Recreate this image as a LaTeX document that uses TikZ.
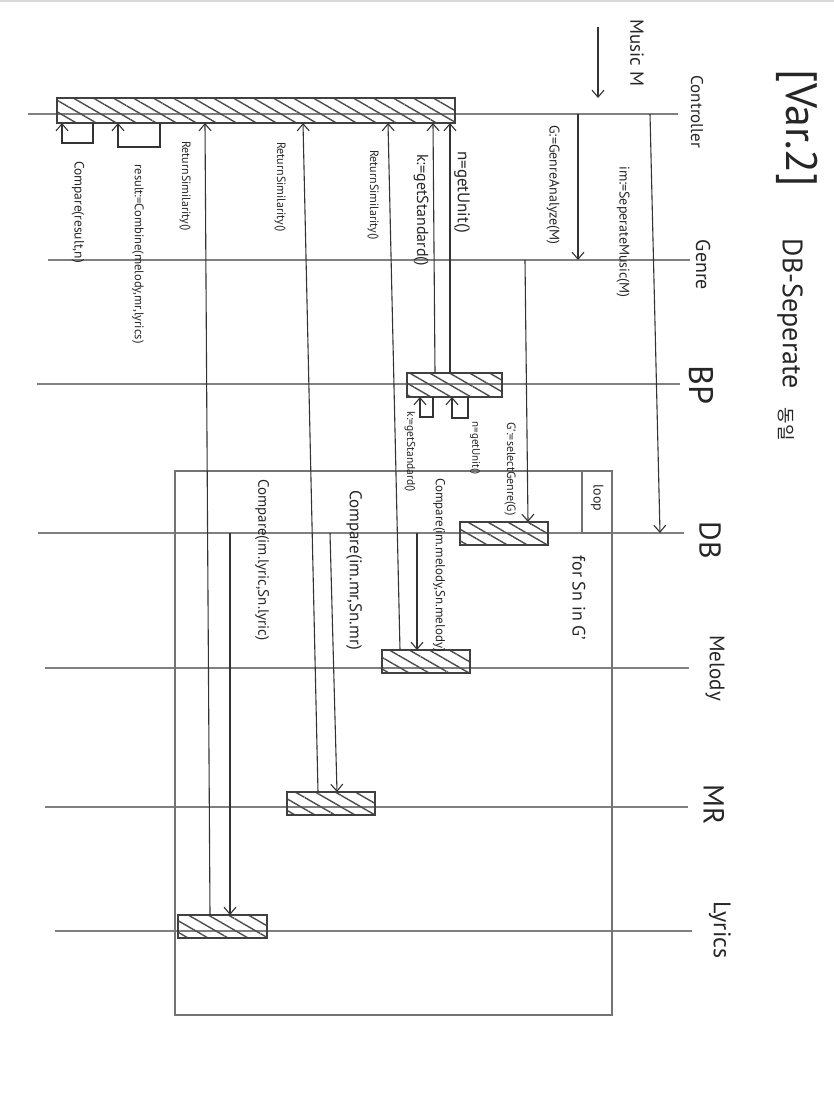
\documentclass[tikz,border=0pt]{standalone}
\usepackage{fontspec}
\setmainfont{PT Sans}
\newfontfamily\krfont{Noto Sans CJK KR}
\usetikzlibrary{arrows.meta, patterns.meta}
\newcommand{\hsz}[1]{\fontsize{#1}{#1}\selectfont}

\begin{document}
\begin{tikzpicture}[x=1pt, y=-1pt,
  lifeline/.style={draw=black!50, line width=2pt},
  actbar/.style={draw=black!75, line width=1.3pt, inner sep=0pt, outer sep=0pt,
    pattern={Lines[angle=-30, distance=10pt, line width=1.4pt]}, pattern color=black!70},
  msg/.style={draw=black!80, line width=1.1pt, -{Straight Barb[length=7pt, width=12pt]}},
  lbl/.style={rotate=-90, inner sep=0pt, text=black!85},
  lname/.style={rotate=-90, inner sep=0pt, text=black!85},
  frame/.style={draw=black!55, line width=1.6pt}
]
\useasboundingbox (0,0) rectangle (834,1095);
\draw[black!15, line width=1.5pt] (0,1) -- (834,1);

% Title
\node[lname, font=\hsz{44}] (title) at (797,128) {[Var.2]};
\node[lname, font=\hsz{28}] (subtitle) at (790,314) {DB-Seperate};
\node[lname, font=\krfont\hsz{18}] (subtitlekr) at (786,424) {동일};

% Lifelines
\coordinate (ctrl) at (0,114);
\coordinate (genre) at (0,260);
\coordinate (bp) at (0,384);
\coordinate (db) at (0,533);
\coordinate (mel) at (0,668);
\coordinate (mr) at (0,807);
\coordinate (lyr) at (0,931);
\draw[lifeline] (28,0 |- ctrl) -- (678,0 |- ctrl);
\draw[lifeline] (48,0 |- genre) -- (690,0 |- genre);
\draw[lifeline] (37,0 |- bp) -- (680,0 |- bp);
\draw[lifeline] (38,0 |- db) -- (684,0 |- db);
\draw[lifeline] (45,0 |- mel) -- (689,0 |- mel);
\draw[lifeline] (45,0 |- mr) -- (688,0 |- mr);
\draw[lifeline] (55,0 |- lyr) -- (692,0 |- lyr);

\node[lname, font=\hsz{17}] (ctrlname) at (697,112) {Controller};
\node[lname, font=\hsz{20}] (genrename) at (703,265) {Genre};
\node[lname, font=\hsz{34}] (bpname) at (701,385) {BP};
\node[lname, font=\hsz{30}] (dbname) at (710,540) {DB};
\node[lname, font=\hsz{21}] (melname) at (715,668) {Melody};
\node[lname, font=\hsz{29}] (mrname) at (714,805) {MR};
\node[lname, font=\hsz{24}] (lyrname) at (720,930) {Lyrics};

% Loop frame
\draw[frame] (175,471) rectangle (612,1015);
\draw[frame] (582,471) |- (612,533);
\node[lbl, font=\hsz{14}] (looptag) at (597,498) {loop};
\node[lbl, font=\hsz{18}] (loopcond) at (579,598) {for Sn in G'};

% Activation bars
\node[actbar, minimum width=398, minimum height=25] (actCtrl) at (256,110.5) {};
\node[actbar, minimum width=95, minimum height=24] (actBP) at (454.5,385) {};
\node[actbar, minimum width=88, minimum height=23] (actDB) at (504,533.5) {};
\node[actbar, minimum width=88, minimum height=23] (actMel) at (426,661.5) {};
\node[actbar, minimum width=88, minimum height=23] (actMR) at (331,803.5) {};
\node[actbar, minimum width=89, minimum height=23] (actLyr) at (222.5,926.5) {};

% Messages
\coordinate (musicIn) at (598,27);
\draw[msg] (musicIn) -- (598,0 |- actCtrl.north);
\node[lbl, font=\hsz{19}] (musiclbl) at (637,53) {Music M};

\draw[msg] (650,0 |- ctrl) -- (660,0 |- db);
\node[lbl, font=\hsz{14}] at (623,232) {im:=SeperateMusic(M)};

\draw[msg] (578,0 |- ctrl) -- (578,0 |- genre);
\node[lbl, font=\hsz{14}] at (553,185) {G:=GenreAnalyze(M)};

\draw[msg] (525,0 |- genre) -- (528,0 |- actDB.north);
\node[lbl, font=\hsz{12}] at (510,469) {G':=selectGenre(G)};

\draw[msg] (450,0 |- actBP.north) -- (450,0 |- actCtrl.south);
\node[lbl, font=\hsz{17}] at (462,192) {n=getUnit()};

\draw[msg] (435,0 |- actBP.north) -- (433,0 |- actCtrl.south);
\node[lbl, font=\hsz{16}] at (421,210) {k:=getStandard()};

% BP self calls
\draw[msg] (468,0 |- actBP.south) -- ++(0,21) -| (452,0 |- actBP.south);
\node[lbl, font=\hsz{11}] at (475,448) {n=getUnit()};
\draw[msg] (433,0 |- actBP.south) -- ++(0,20) -| (420,0 |- actBP.south);
\node[lbl, font=\hsz{11.5}] at (410,452) {k:=getStandard()};

% Compare calls
\draw[msg] (417,0 |- db) -- (417,0 |- actMel.north);
\node[lbl, font=\hsz{13}] at (439,565) {Compare(im.melody,Sn.melody)};
\draw[msg] (400,0 |- actMel.north) -- (388,0 |- actCtrl.south);
\node[lbl, font=\hsz{12}] at (373,195) {ReturnSimilarity()};

\draw[msg] (330,0 |- db) -- (337,0 |- actMR.north);
\node[lbl, font=\hsz{17}] at (354,570) {Compare(im.mr,Sn.mr)};
\draw[msg] (318,0 |- actMR.north) -- (303,0 |- actCtrl.south);
\node[lbl, font=\hsz{12}] at (280,187) {ReturnSimilarity()};

\draw[msg] (230,0 |- db) -- (230,0 |- actLyr.north);
\node[lbl, font=\hsz{15}] at (262,560) {Compare(im.lyric,Sn.lyric)};
\draw[msg] (210,0 |- actLyr.north) -- (205,0 |- actCtrl.south);
\node[lbl, font=\hsz{12}] at (185,186) {ReturnSimilarity()};

% Controller self calls
\draw[msg] (160,0 |- actCtrl.south) -- ++(0,24) -| (118,0 |- actCtrl.south);
\node[lbl, font=\hsz{12.5}] at (138,254) {result:=Combine(melody,mr,lyrics)};
\draw[msg] (93,0 |- actCtrl.south) -- ++(0,20) -| (62,0 |- actCtrl.south);
\node[lbl, font=\hsz{13.5}] at (78,212) {Compare(result,n)};

\end{tikzpicture}
\end{document}
